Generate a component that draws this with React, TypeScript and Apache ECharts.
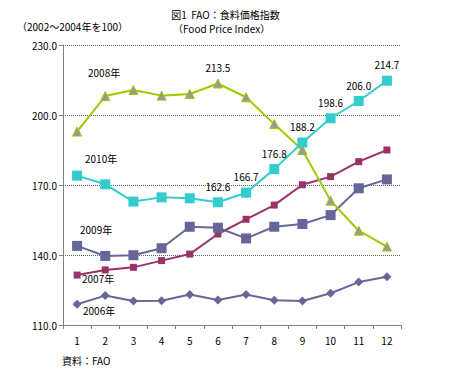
import React, { useEffect, useRef } from "react";
import * as echarts from "echarts";

const months = ["1", "2", "3", "4", "5", "6", "7", "8", "9", "10", "11", "12"];
const y2006 = [118.9, 122.6, 120.3, 120.4, 123.1, 120.7, 123.1, 120.6, 120.3, 123.6, 128.4, 130.7];
const y2007 = [131.4, 133.6, 134.7, 137.6, 140.4, 149.0, 155.3, 161.4, 170.1, 173.6, 180.0, 185.0];
const y2008 = [192.9, 208.1, 210.7, 208.3, 209.0, 213.5, 207.6, 196.1, 185.0, 163.3, 150.4, 143.6];
const y2009 = [143.9, 139.6, 139.9, 142.9, 152.1, 151.7, 147.1, 152.1, 153.3, 157.1, 168.6, 172.4];
const y2010 = [174.0, 170.3, 162.9, 164.7, 164.3, 162.6, 166.7, 176.8, 188.2, 198.6, 206.0, 214.7];
const labeled2008 = [5];
const labeled2010 = [5, 6, 7, 8, 9, 10, 11];

const FONT = "'Noto Sans CJK JP', 'DejaVu Sans', sans-serif";

export default function App() {
  const ref = useRef<HTMLDivElement>(null);
  useEffect(() => {
    if (!ref.current) return;
    const chart = echarts.init(ref.current, null, { renderer: "svg" });
    const labelStyle = { show: true, position: "top" as const, distance: 6, fontSize: 10, color: "#000", fontFamily: FONT };
    const withLabels = (arr: number[], idx: number[]) =>
      arr.map((v, i) => (idx.includes(i) ? { value: v, label: { ...labelStyle, formatter: (p: any) => Number(p.value).toFixed(1) } } : v));
    chart.setOption({
      animation: false,
      textStyle: { fontFamily: FONT },
      grid: { left: 63, right: 50, top: 45, bottom: 50 },
      xAxis: {
        type: "category",
        data: months,
        boundaryGap: true,
        axisLine: { lineStyle: { color: "#808080", width: 1 } },
        axisTick: { show: true, length: 4, inside: false, lineStyle: { color: "#808080" } },
        axisLabel: { color: "#000", fontSize: 10, margin: 10, fontFamily: FONT },
      },
      yAxis: {
        type: "value",
        min: 110,
        max: 230,
        interval: 30,
        axisLine: { show: true, lineStyle: { color: "#808080", width: 1 } },
        axisTick: { show: true, length: 4, lineStyle: { color: "#808080" } },
        axisLabel: { color: "#000", fontSize: 10, margin: 6, fontFamily: FONT, formatter: (v: number) => v.toFixed(1) },
        splitLine: { show: true, lineStyle: { color: "#606060", type: [1, 1], width: 1 } },
      },
      series: [
        {
          name: "2006年", type: "line", data: y2006, symbol: "diamond", symbolSize: 9,
          lineStyle: { color: "#666699", width: 2 }, itemStyle: { color: "#666699" },
        },
        {
          name: "2007年", type: "line", data: y2007, symbol: "rect", symbolSize: 7,
          lineStyle: { color: "#993366", width: 2 }, itemStyle: { color: "#993366" },
        },
        {
          name: "2009年", type: "line", data: y2009, symbol: "rect", symbolSize: 10,
          lineStyle: { color: "#666699", width: 2 }, itemStyle: { color: "#666699" },
        },
        {
          name: "2008年", type: "line", data: withLabels(y2008, labeled2008), symbol: "triangle", symbolSize: 9,
          lineStyle: { color: "#99CC00", width: 2 }, itemStyle: { color: "#999999", borderColor: "#99CC00", borderWidth: 1 },
        },
        {
          name: "2010年", type: "line", data: withLabels(y2010, labeled2010), symbol: "rect", symbolSize: 10,
          lineStyle: { color: "#33CCCC", width: 2 }, itemStyle: { color: "#33CCCC" },
        },
      ],
      graphic: [
        { type: "text", left: "center", top: 9, style: { text: "図1  FAO：食料価格指数", fontSize: 10, fill: "#000", fontFamily: FONT } },
        { type: "text", x: 173, y: 23, style: { text: "（Food Price Index）", fontSize: 10, fill: "#000", fontFamily: FONT } },
        { type: "text", x: 17, y: 21, style: { text: "（2002～2004年を100）", fontSize: 10, fill: "#000", fontFamily: FONT } },
        { type: "text", x: 88, y: 67, style: { text: "2008年", fontSize: 10, fill: "#000", fontFamily: FONT } },
        { type: "text", x: 85, y: 153, style: { text: "2010年", fontSize: 10, fill: "#000", fontFamily: FONT } },
        { type: "text", x: 80, y: 224, style: { text: "2009年", fontSize: 10, fill: "#000", fontFamily: FONT } },
        { type: "text", x: 82, y: 273, style: { text: "2007年", fontSize: 10, fill: "#000", fontFamily: FONT } },
        { type: "text", x: 83, y: 305, style: { text: "2006年", fontSize: 10, fill: "#000", fontFamily: FONT } },
        { type: "text", x: 62, y: 355, style: { text: "資料：FAO", fontSize: 10, fill: "#000", fontFamily: FONT } },
      ],
    });
    return () => chart.dispose();
  }, []);
  return <div ref={ref} style={{ position: "fixed", left: 0, top: 0, width: 451, height: 375, background: "#fff" }} />;
}
